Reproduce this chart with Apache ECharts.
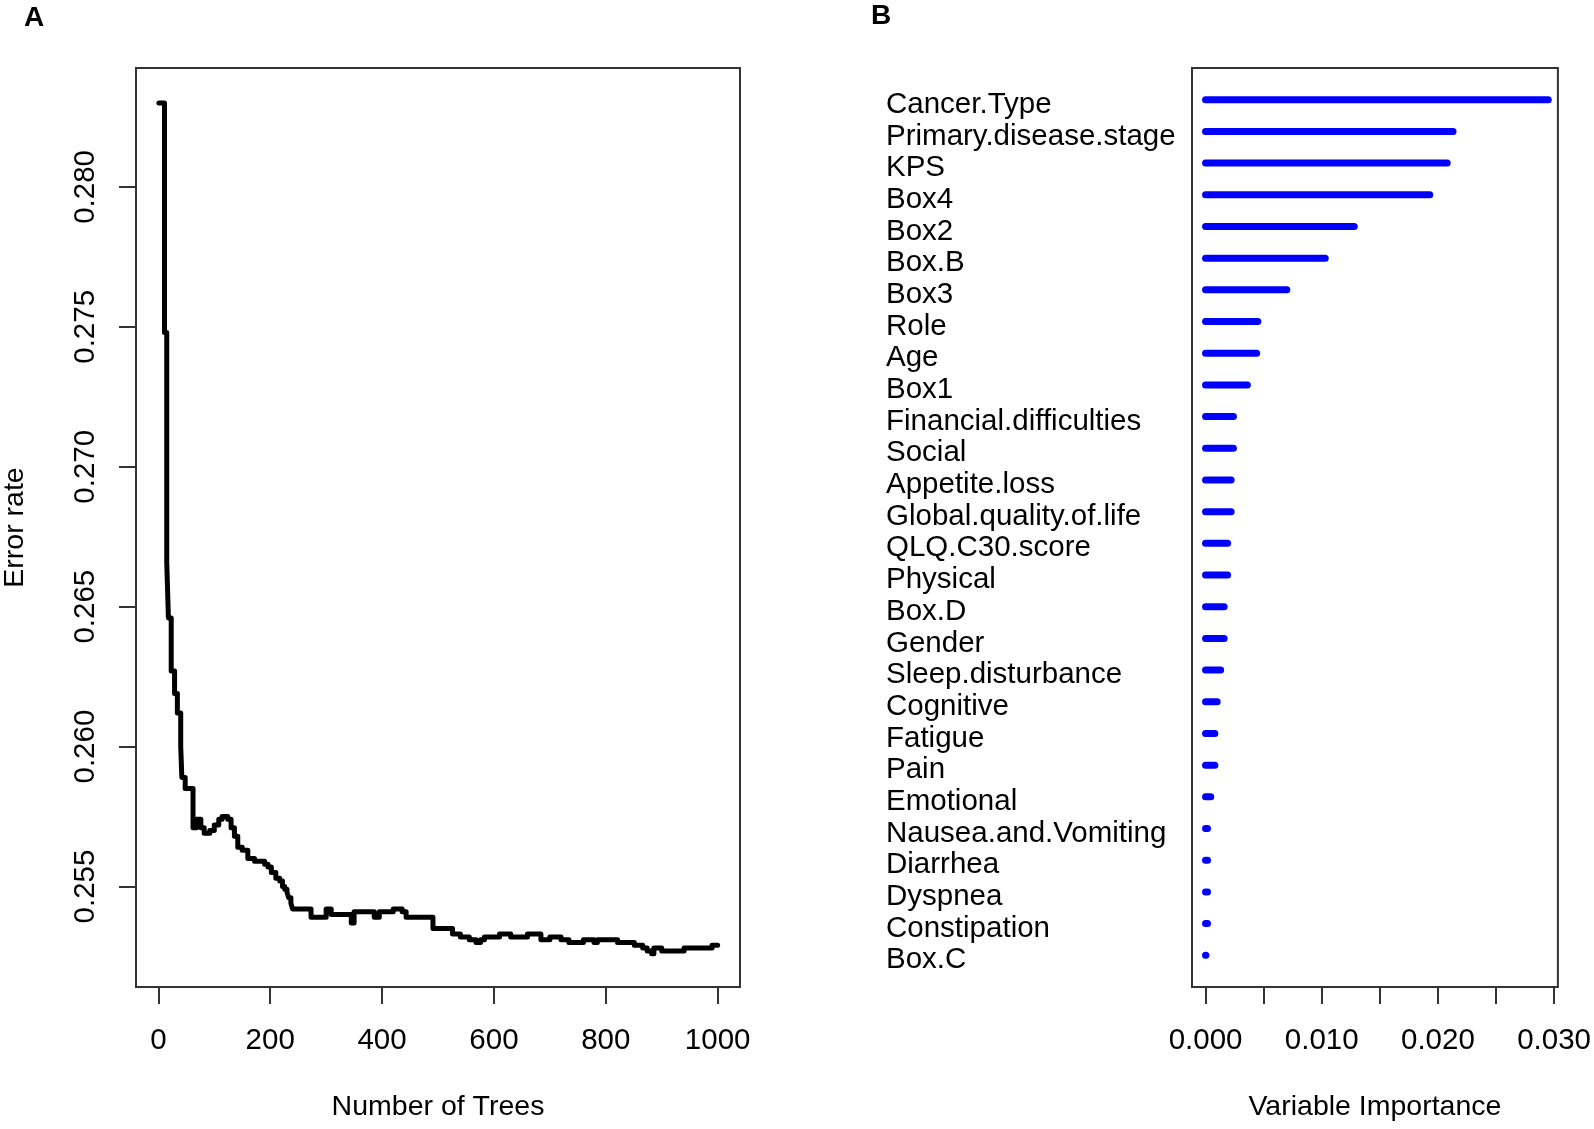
<!DOCTYPE html>
<html>
<head>
<meta charset="utf-8">
<script src="https://cdn.jsdelivr.net/npm/echarts@6/dist/echarts.min.js"></script>
<style>
html,body{margin:0;padding:0;background:#fff;}
#chart{width:1594px;height:1129px;}
</style>
</head>
<body>
<div id="chart"></div>
<script>
// Panel A: OOB error rate vs number of trees (level starts at given tree)
const trees = [1, 11, 15, 18, 23, 29, 34, 40, 42, 48, 62, 68, 76, 82, 92, 100, 108, 114, 124, 130, 136, 142, 150, 160, 172, 190, 196, 202, 210, 217, 222, 226, 230, 233, 237, 240, 273, 300, 309, 345, 350, 386, 395, 420, 436, 443, 491, 526, 540, 556, 568, 576, 583, 610, 630, 660, 684, 700, 720, 734, 760, 779, 785, 821, 851, 866, 874, 882, 886, 900, 922, 940, 990, 1000];
const errorRate = [0.2830, 0.2748, 0.2666, 0.2646, 0.2627, 0.2619, 0.2612, 0.2600, 0.2589, 0.2585, 0.2571, 0.2574, 0.2571, 0.2569, 0.2570, 0.2572, 0.2574, 0.2575, 0.2574, 0.2571, 0.2568, 0.2564, 0.2563, 0.2560, 0.2559, 0.2558, 0.2557, 0.2555, 0.2553, 0.2552, 0.2550, 0.2549, 0.2548, 0.2546, 0.2544, 0.2542, 0.2539, 0.2542, 0.2540, 0.2537, 0.2541, 0.2539, 0.2541, 0.2542, 0.2541, 0.2539, 0.2535, 0.2533, 0.2532, 0.2531, 0.2530, 0.2531, 0.2532, 0.2533, 0.2532, 0.2533, 0.2531, 0.2532, 0.2531, 0.2530, 0.2531, 0.2530, 0.2531, 0.2530, 0.2529, 0.2528, 0.2527, 0.2526, 0.2528, 0.2527, 0.2527, 0.2528, 0.2529, 0.2529];
const treeTicks = [0, 200, 400, 600, 800, 1000];
const errorTicks = [0.255, 0.260, 0.265, 0.270, 0.275, 0.280];

// Panel B: variable importance (top to bottom)
const varNames = ['Cancer.Type', 'Primary.disease.stage', 'KPS', 'Box4', 'Box2', 'Box.B', 'Box3', 'Role', 'Age', 'Box1', 'Financial.difficulties', 'Social', 'Appetite.loss', 'Global.quality.of.life', 'QLQ.C30.score', 'Physical', 'Box.D', 'Gender', 'Sleep.disturbance', 'Cognitive', 'Fatigue', 'Pain', 'Emotional', 'Nausea.and.Vomiting', 'Diarrhea', 'Dyspnea', 'Constipation', 'Box.C'];
const importance = [0.0295, 0.0213, 0.0208, 0.0193, 0.0128, 0.0103, 0.0070, 0.0045, 0.0044, 0.0036, 0.0024, 0.0024, 0.0022, 0.0022, 0.0019, 0.0019, 0.0016, 0.0016, 0.0013, 0.0010, 0.0008, 0.0008, 0.00045, 0.00017, 0.00017, 0.00017, 0.00017, 0.00003];
const impTicks = [0, 0.005, 0.010, 0.015, 0.020, 0.025, 0.030];
const impLabels = [0, 0.010, 0.020, 0.030];

const FONT = 'Liberation Sans, Arial, sans-serif';
const chart = echarts.init(document.getElementById('chart'), null, {renderer: 'canvas'});

const lineData = trees.map((t, i) => [t, errorRate[i]]);
const impData = varNames.map((n, i) => [importance[i], i + 1]);

const tickStyle = {show: true, inside: false, length: 17, lineStyle: {color: '#333', width: 2}};
const noLine = {show: false, onZero: false};

chart.setOption({
  animation: false,
  backgroundColor: '#fff',
  graphic: [
    {type: 'text', left: 24, top: 4, style: {text: 'A', font: 'bold 28px ' + FONT, fill: '#000'}},
    {type: 'text', left: 871, top: 2, style: {text: 'B', font: 'bold 28px ' + FONT, fill: '#000'}}
  ],
  grid: [
    {left: 135, top: 68, width: 605, height: 919, show: true, borderColor: '#333', borderWidth: 2, backgroundColor: 'transparent'},
    {left: 1192, top: 68, width: 370, height: 919, show: true, borderColor: '#333', borderWidth: 2, backgroundColor: 'transparent'}
  ],
  xAxis: [
    {
      gridIndex: 0, type: 'value', position: 'bottom', min: -39.96, max: 1039.96,
      splitLine: {show: false}, axisLine: noLine,
      axisTick: Object.assign({customValues: treeTicks}, tickStyle),
      axisLabel: {customValues: treeTicks, margin: 39, fontSize: 29.5, fontFamily: FONT, color: '#000',
        formatter: v => String(v)},
      name: 'Number of Trees', nameLocation: 'middle', nameGap: 106,
      nameTextStyle: {fontSize: 28.5, fontFamily: FONT, color: '#000'}
    },
    {
      gridIndex: 1, type: 'value', position: 'bottom', min: -0.001166, max: 0.030326,
      splitLine: {show: false}, axisLine: noLine,
      axisTick: Object.assign({customValues: impTicks}, tickStyle),
      axisLabel: {customValues: impLabels, margin: 39, fontSize: 29.5, fontFamily: FONT, color: '#000',
        formatter: v => v.toFixed(3)},
      name: 'Variable Importance', nameLocation: 'middle', nameGap: 106,
      nameTextStyle: {fontSize: 28.5, fontFamily: FONT, color: '#000'}
    }
  ],
  yAxis: [
    {
      gridIndex: 0, type: 'value', position: 'left', min: 0.25141, max: 0.28425,
      splitLine: {show: false}, axisLine: noLine,
      axisTick: Object.assign({customValues: errorTicks}, tickStyle),
      axisLabel: {customValues: errorTicks, rotate: 90, align: 'center', verticalAlign: 'bottom', margin: 35,
        fontSize: 29.5, fontFamily: FONT, color: '#000', formatter: v => v.toFixed(3)},
      name: 'Error rate', nameLocation: 'middle', nameGap: 106,
      nameTextStyle: {fontSize: 28.5, fontFamily: FONT, color: '#000'}
    },
    {
      gridIndex: 1, type: 'value', position: 'left', min: 0, max: 29, interval: 1, inverse: true,
      splitLine: {show: false}, axisLine: noLine, axisTick: {show: false},
      axisLabel: {align: 'left', margin: 306, fontSize: 29.5, fontFamily: FONT, color: '#000',
        formatter: v => varNames[v - 1] ? '{n|' + varNames[v - 1] + '}' : '',
        rich: {n: {fontSize: 29.5, fontFamily: FONT, color: '#000', padding: [10, 0, 0, 0]}}}
    }
  ],
  series: [
    {
      type: 'line', xAxisIndex: 0, yAxisIndex: 0, data: lineData, step: 'end',
      showSymbol: false, lineStyle: {color: '#000', width: 5, cap: 'round', join: 'round'}
    },
    {
      type: 'custom', xAxisIndex: 1, yAxisIndex: 1, data: impData,
      renderItem: function (params, api) {
        const p0 = api.coord([0, api.value(1)]);
        const p1 = api.coord([api.value(0), api.value(1)]);
        return {
          type: 'line',
          shape: {x1: p0[0], y1: p0[1], x2: p1[0], y2: p1[1]},
          style: {stroke: '#0000ff', lineWidth: 7, lineCap: 'round'}
        };
      }
    }
  ]
});
</script>
</body>
</html>
